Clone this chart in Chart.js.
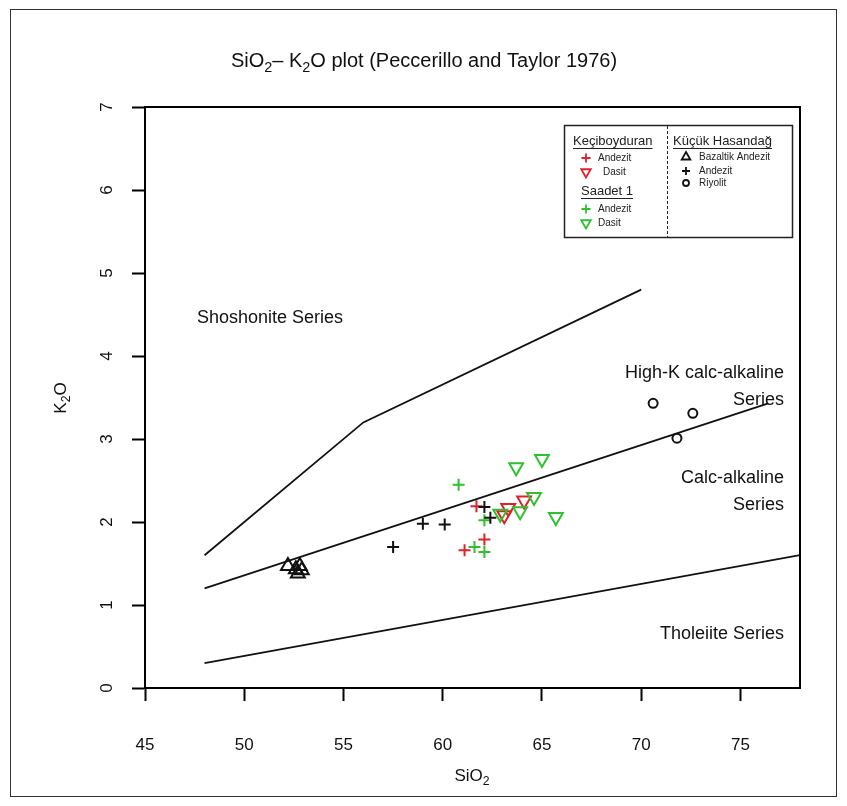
<!DOCTYPE html>
<html>
<head>
<meta charset="utf-8">
<script src="https://cdn.jsdelivr.net/npm/chart.js@4.4.1/dist/chart.umd.min.js"></script>
<style>
  html, body { margin: 0; padding: 0; background: #fff; }
</style>
</head>
<body>
<canvas id="pt76" width="847" height="806"></canvas>
<script>
// boundary lines (SiO2, K2O)
const shoHkSiO2 = [48, 56, 70]
const shoHkK2O = [1.6, 3.2, 4.8]
const hkCaSiO2 = [48, 76.4]
const hkCaK2O = [1.2, 3.43]
const caThSiO2 = [48, 78]
const caThK2O = [0.3, 1.6]

// Keçiboyduran
const kecAndezitSiO2 = [61.7, 61.1, 62.1]
const kecAndezitK2O = [2.19, 1.66, 1.79]
const kecDasitSiO2 = [63.1, 63.3, 64.1]
const kecDasitK2O = [2.08, 2.17, 2.26]

// Saadet 1
const saaAndezitSiO2 = [60.8, 62.1, 61.6, 62.1]
const saaAndezitK2O = [2.45, 2.02, 1.70, 1.64]
const saaDasitSiO2 = [62.9, 63.9, 64.6, 63.7, 65.0, 65.7]
const saaDasitK2O = [2.10, 2.13, 2.30, 2.66, 2.76, 2.06]

// Küçük Hasandağ
const khBazaltikSiO2 = [52.2, 52.6, 52.7, 52.8, 52.9]
const khBazaltikK2O = [1.47, 1.43, 1.38, 1.47, 1.42]
const khAndezitSiO2 = [57.5, 59.0, 60.1, 62.1, 62.4]
const khAndezitK2O = [1.70, 1.98, 1.97, 2.18, 2.05]
const khRiyolitSiO2 = [70.6, 71.8, 72.6]
const khRiyolitK2O = [3.43, 3.01, 3.31]

const xTicks = [45, 50, 55, 60, 65, 70, 75]
const yTicks = [0, 1, 2, 3, 4, 5, 6, 7]

const seriesNames = ['Shoshonite Series', 'High-K calc-alkaline', 'Series', 'Calc-alkaline', 'Series', 'Tholeiite Series']

const RED = '#e0202a'
const GREEN = '#2fc02f'
const FONT = '"Liberation Sans", Arial, sans-serif'

function pts(xs, ys) {
    return xs.map((x, i) => ({ x: x, y: ys[i] }))
}

function lineSet(xs, ys) {
    return {
        type: 'line',
        data: pts(xs, ys),
        borderColor: '#111',
        borderWidth: 1.8,
        pointRadius: 0,
        fill: false,
        tension: 0
    }
}

function markerSet(xs, ys, style, color, radius, rotation) {
    return {
        type: 'scatter',
        data: pts(xs, ys),
        pointStyle: style,
        pointRadius: radius,
        pointRotation: rotation || 0,
        borderColor: color,
        backgroundColor: 'rgba(0,0,0,0)',
        pointBorderWidth: 2,
        pointHoverRadius: radius
    }
}

// draw text pieces, some as subscripts
function subText(ctx, parts, x, y, size, align) {
    ctx.font = size + 'px ' + FONT
    let total = 0
    parts.forEach(p => {
        ctx.font = (p[1] ? size * 0.72 : size) + 'px ' + FONT
        total += ctx.measureText(p[0]).width
    })
    let cx = align === 'center' ? x - total / 2 : x
    ctx.textAlign = 'left'
    ctx.textBaseline = 'alphabetic'
    parts.forEach(p => {
        ctx.font = (p[1] ? size * 0.72 : size) + 'px ' + FONT
        ctx.fillText(p[0], cx, p[1] ? y + size * 0.25 : y)
        cx += ctx.measureText(p[0]).width
    })
}

const decor = {
    id: 'decor',
    beforeDraw(chart) {
        const ctx = chart.ctx
        ctx.save()
        ctx.fillStyle = '#fff'
        ctx.fillRect(0, 0, chart.width, chart.height)
        ctx.strokeStyle = '#333'
        ctx.lineWidth = 1
        ctx.strokeRect(10.5, 9.5, 826, 787)
        ctx.restore()
    },
    afterDraw(chart) {
        const ctx = chart.ctx
        const a = chart.chartArea
        const xs = chart.scales.x
        const ys = chart.scales.y
        ctx.save()
        ctx.strokeStyle = '#000'
        ctx.lineWidth = 2
        ctx.strokeRect(a.left, a.top, a.right - a.left, a.bottom - a.top)

        ctx.fillStyle = '#111'
        // y tick labels, rotated like the base R axis
        ctx.font = '17px ' + FONT
        ctx.textAlign = 'center'
        ctx.textBaseline = 'middle'
        yTicks.forEach(v => {
            ctx.save()
            ctx.translate(a.left - 38, ys.getPixelForValue(v))
            ctx.rotate(-Math.PI / 2)
            ctx.fillText(String(v), 0, 0)
            ctx.restore()
        })

        // title and axis titles
        subText(ctx, [['SiO', false], ['2', true], ['– K', false], ['2', true], ['O plot (Peccerillo and Taylor 1976)', false]], 424, 67, 20, 'center')
        subText(ctx, [['SiO', false], ['2', true]], 472, 781, 17, 'center')
        ctx.save()
        ctx.translate(66, 398)
        ctx.rotate(-Math.PI / 2)
        subText(ctx, [['K', false], ['2', true], ['O', false]], 0, 0, 17, 'center')
        ctx.restore()

        // series names
        ctx.font = '18px ' + FONT
        ctx.textBaseline = 'middle'
        ctx.textAlign = 'center'
        ctx.fillText(seriesNames[0], xs.getPixelForValue(51.3), ys.getPixelForValue(4.46))
        ctx.textAlign = 'right'
        const rx = xs.getPixelForValue(77.2)
        ctx.fillText(seriesNames[1], rx, ys.getPixelForValue(3.8))
        ctx.fillText(seriesNames[2], rx, ys.getPixelForValue(3.47))
        ctx.fillText(seriesNames[3], rx, ys.getPixelForValue(2.53))
        ctx.fillText(seriesNames[4], rx, ys.getPixelForValue(2.2))
        ctx.fillText(seriesNames[5], rx, ys.getPixelForValue(0.65))

        drawLegend(ctx)
        ctx.restore()
    }
}

function drawLegend(ctx) {
    const H = Chart.helpers
    ctx.save()
    ctx.fillStyle = '#fff'
    ctx.fillRect(564, 125, 228, 112)
    ctx.strokeStyle = '#222'
    ctx.lineWidth = 1.5
    ctx.strokeRect(564.5, 125.5, 228, 112)
    ctx.setLineDash([3, 2])
    ctx.lineWidth = 1
    ctx.beginPath()
    ctx.moveTo(667.5, 126)
    ctx.lineTo(667.5, 237)
    ctx.stroke()
    ctx.setLineDash([])

    function header(text, x, y) {
        ctx.font = '13px ' + FONT
        ctx.fillStyle = '#222'
        ctx.textAlign = 'left'
        ctx.textBaseline = 'alphabetic'
        ctx.fillText(text, x, y)
        const w = ctx.measureText(text).width
        ctx.strokeStyle = '#222'
        ctx.lineWidth = 1
        ctx.beginPath()
        ctx.moveTo(x, y + 3.5)
        ctx.lineTo(x + w, y + 3.5)
        ctx.stroke()
    }
    function item(style, rot, color, r, mx, tx, y, text) {
        ctx.strokeStyle = color
        ctx.fillStyle = 'rgba(0,0,0,0)'
        ctx.lineWidth = 1.8
        H.drawPoint(ctx, { pointStyle: style, rotation: rot, radius: r, borderWidth: 1.8 }, mx, y)
        ctx.font = '10px ' + FONT
        ctx.fillStyle = '#222'
        ctx.textAlign = 'left'
        ctx.textBaseline = 'middle'
        ctx.fillText(text, tx, y)
    }
    header('Keçiboyduran', 573, 145)
    item('cross', 0, RED, 4.5, 586, 598, 158, 'Andezit')
    item('triangle', 180, RED, 5.5, 586, 603, 172, 'Dasit')
    header('Saadet 1', 581, 195)
    item('cross', 0, GREEN, 4.5, 586, 598, 209, 'Andezit')
    item('triangle', 180, GREEN, 5.5, 586, 598, 223, 'Dasit')
    header('Küçük Hasandağ', 673, 145)
    item('triangle', 0, '#111', 5, 686, 699, 157, 'Bazaltik Andezit')
    item('cross', 0, '#111', 4, 686, 699, 171, 'Andezit')
    item('circle', 0, '#111', 3, 686, 699, 183, 'Riyolit')
    ctx.restore()
}

const ctx = document.getElementById('pt76')

new Chart(ctx, {
    type: 'scatter',
    data: {
        datasets: [
            lineSet(shoHkSiO2, shoHkK2O),
            lineSet(hkCaSiO2, hkCaK2O),
            lineSet(caThSiO2, caThK2O),
            markerSet(khBazaltikSiO2, khBazaltikK2O, 'triangle', '#111', 8),
            markerSet(khAndezitSiO2, khAndezitK2O, 'cross', '#111', 6),
            markerSet(khRiyolitSiO2, khRiyolitK2O, 'circle', '#111', 4.5),
            markerSet(kecAndezitSiO2, kecAndezitK2O, 'cross', RED, 6),
            markerSet(saaAndezitSiO2, saaAndezitK2O, 'cross', GREEN, 6),
            markerSet(saaDasitSiO2, saaDasitK2O, 'triangle', GREEN, 8, 180),
            markerSet(kecDasitSiO2, kecDasitK2O, 'triangle', RED, 8, 180)
        ]
    },
    options: {
        responsive: false,
        animation: false,
        devicePixelRatio: 1,
        layout: {
            padding: { top: 107, right: 47, left: 0, bottom: 0 }
        },
        plugins: {
            legend: { display: false },
            title: { display: false },
            tooltip: { enabled: false }
        },
        scales: {
            x: {
                type: 'linear',
                min: 45,
                max: 78,
                afterFit: (scale) => { scale.height = 118 },
                afterBuildTicks: (scale) => { scale.ticks = xTicks.map(v => ({ value: v })) },
                ticks: {
                    color: '#111',
                    font: { family: FONT, size: 17 },
                    padding: 34,
                    maxRotation: 0
                },
                grid: {
                    drawOnChartArea: false,
                    tickLength: 13,
                    tickWidth: 2,
                    tickColor: '#000'
                },
                border: { color: '#000', width: 2 }
            },
            y: {
                type: 'linear',
                min: 0,
                max: 7,
                afterFit: (scale) => { scale.width = 145 },
                afterBuildTicks: (scale) => { scale.ticks = yTicks.map(v => ({ value: v })) },
                ticks: { display: false },
                grid: {
                    drawOnChartArea: false,
                    tickLength: 13,
                    tickWidth: 2,
                    tickColor: '#000'
                },
                border: { color: '#000', width: 2 }
            }
        }
    },
    plugins: [decor]
})
</script>
</body>
</html>
